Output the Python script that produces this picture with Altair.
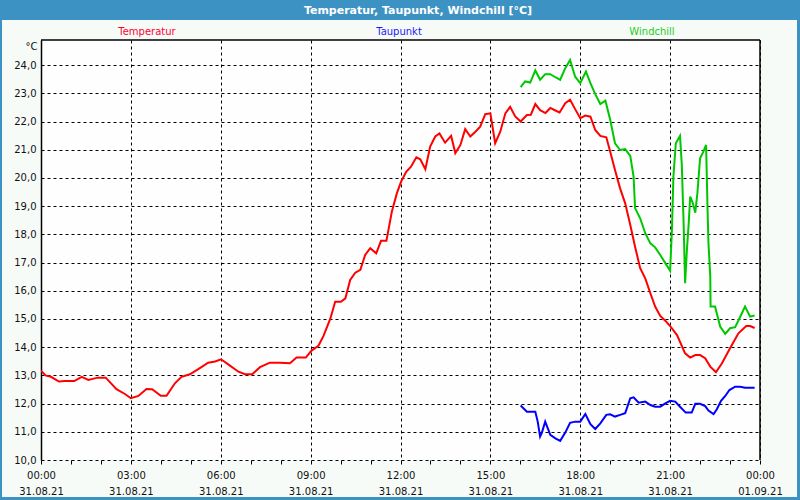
import json
import altair as alt
import pandas as pd

# ---------------- data ----------------
TEMP_H = [0.00, 0.15, 0.33, 0.60, 0.80, 1.11, 1.36, 1.58, 1.89, 2.16, 2.52, 2.80, 3.00, 3.25, 3.52, 3.71,
          4.00, 4.19, 4.47, 4.69, 4.97, 5.25, 5.58, 5.81, 6.01, 6.25, 6.59, 6.81, 7.05, 7.31, 7.64, 7.98,
          8.31, 8.53, 8.84, 9.03, 9.26, 9.43, 9.66, 9.82, 10.01, 10.16, 10.32, 10.49, 10.66, 10.82, 10.99,
          11.19, 11.35, 11.53, 11.71, 11.88, 12.02, 12.19, 12.35, 12.53, 12.66, 12.83, 12.99, 13.16, 13.30,
          13.49, 13.69, 13.83, 14.00, 14.16, 14.33, 14.50, 14.66, 14.83, 15.00, 15.16, 15.33, 15.50, 15.66,
          15.83, 16.01, 16.22, 16.35, 16.50, 16.66, 16.84, 17.00, 17.17, 17.31, 17.50, 17.66, 17.83, 18.00,
          18.17, 18.34, 18.50, 18.67, 18.87, 19.00, 19.16, 19.33, 19.50, 19.67, 19.83, 20.00, 20.17, 20.34,
          20.50, 20.67, 20.84, 21.00, 21.23, 21.50, 21.67, 21.84, 22.00, 22.17, 22.34, 22.53, 22.73, 23.00,
          23.28, 23.54, 23.67, 23.82]
TEMP_V = [13.17, 13.00, 12.95, 12.78, 12.80, 12.80, 12.95, 12.84, 12.92, 12.92, 12.51, 12.34, 12.19, 12.27,
          12.52, 12.51, 12.28, 12.28, 12.72, 12.95, 13.04, 13.22, 13.45, 13.49, 13.57, 13.39, 13.13, 13.04,
          13.04, 13.29, 13.45, 13.45, 13.43, 13.63, 13.63, 13.88, 14.05, 14.40, 15.02, 15.61, 15.61, 15.73,
          16.38, 16.64, 16.74, 17.27, 17.51, 17.33, 17.77, 17.77, 18.80, 19.46, 19.87, 20.22, 20.40, 20.73,
          20.66, 20.31, 21.11, 21.47, 21.58, 21.25, 21.49, 20.88, 21.17, 21.73, 21.47, 21.64, 21.82, 22.26,
          22.29, 21.23, 21.64, 22.29, 22.52, 22.18, 22.00, 22.23, 22.24, 22.62, 22.40, 22.30, 22.48, 22.39,
          22.32, 22.65, 22.77, 22.44, 22.12, 22.21, 22.17, 21.70, 21.49, 21.44, 20.93, 20.28, 19.63, 19.10,
          18.33, 17.56, 16.80, 16.44, 15.91, 15.44, 15.11, 14.94, 14.75, 14.43, 13.78, 13.63, 13.72, 13.72,
          13.61, 13.31, 13.11, 13.43, 13.96, 14.49, 14.75, 14.75, 14.68]

DEW_H = [16.01, 16.22, 16.50, 16.58, 16.66, 16.72, 16.83, 17.00, 17.17, 17.33, 17.50, 17.66, 17.83, 18.00,
         18.17, 18.34, 18.50, 18.67, 18.87, 19.00, 19.16, 19.33, 19.50, 19.67, 19.78, 19.95, 20.17, 20.34,
         20.50, 20.67, 20.84, 21.00, 21.17, 21.33, 21.52, 21.72, 21.84, 22.00, 22.17, 22.28, 22.45, 22.56,
         22.70, 22.84, 22.98, 23.17, 23.34, 23.50, 23.82]
DEW_V = [11.93, 11.71, 11.71, 11.36, 10.83, 10.97, 11.36, 10.89, 10.77, 10.68, 10.97, 11.32, 11.36, 11.36,
         11.63, 11.27, 11.10, 11.30, 11.60, 11.62, 11.54, 11.60, 11.66, 12.19, 12.22, 12.03, 12.07, 11.95,
         11.89, 11.89, 12.01, 12.10, 12.07, 11.89, 11.68, 11.68, 11.99, 11.99, 11.91, 11.75, 11.63, 11.80,
         12.10, 12.27, 12.48, 12.60, 12.60, 12.56, 12.56]

WIND_H = [16.01, 16.16, 16.33, 16.50, 16.66, 16.83, 17.00, 17.17, 17.33, 17.50, 17.66, 17.83, 18.00, 18.19,
          18.34, 18.50, 18.67, 18.84, 19.00, 19.16, 19.33, 19.50, 19.67, 19.78, 19.83, 20.00, 20.17, 20.34,
          20.50, 20.67, 20.84, 21.00, 21.06, 21.11, 21.19, 21.33, 21.39, 21.45, 21.50, 21.56, 21.62, 21.67,
          21.76, 21.84, 21.91, 22.00, 22.11, 22.20, 22.25, 22.28, 22.34, 22.35, 22.50, 22.67, 22.84, 23.00,
          23.17, 23.34, 23.50, 23.67, 23.82]
WIND_V = [23.22, 23.42, 23.38, 23.81, 23.48, 23.68, 23.68, 23.57, 23.48, 23.89, 24.18, 23.59, 23.36, 23.77,
          23.36, 22.97, 22.62, 22.74, 22.06, 21.23, 20.99, 21.02, 20.78, 20.05, 18.93, 18.57, 18.04, 17.68,
          17.54, 17.27, 16.98, 16.71, 18.16, 20.05, 21.23, 21.49, 20.46, 18.39, 16.27, 17.45, 18.39, 19.34,
          19.10, 18.77, 19.46, 20.70, 20.93, 21.17, 18.87, 17.68, 16.50, 15.44, 15.44, 14.73, 14.47, 14.67,
          14.71, 15.08, 15.44, 15.08, 15.12]

SERIES = ["Temperatur", "Taupunkt", "Windchill"]
TIME_LABELS = ["00:00", "03:00", "06:00", "09:00", "12:00", "15:00", "18:00", "21:00", "00:00"]
DATE_LABELS = ["31.08.21"] * 8 + ["01.09.21"]
TITLE = "Temperatur, Taupunkt, Windchill [°C]"
UNIT = "°C"

# ---------------- styles ----------------
COLORS = ["#ff0000", "#0000ff", "#00c800"]
LABEL_COLORS = ["#ff0033", "#1a1aff", "#22cc22"]
LABEL_X = [106, 358, 611]
FONT = "DejaVu Sans"
FRAME_BLUE = "#3d92c4"
PAGE_BG = "#f7fbf7"
W, H = 719, 420

rows = []
for name, hs, vs in [(SERIES[0], TEMP_H, TEMP_V), (SERIES[1], DEW_H, DEW_V), (SERIES[2], WIND_H, WIND_V)]:
    for h, v in zip(hs, vs):
        rows.append({"h": h, "v": v, "s": name})
df = pd.DataFrame(rows)

label_expr = ("datum.value % 3 === 0 ? [" + json.dumps(TIME_LABELS) + "[datum.value/3], "
              + json.dumps(DATE_LABELS) + "[datum.value/3]] : ''")

x_scale = alt.Scale(domain=[0, 24], nice=False, zero=False)
y_scale = alt.Scale(domain=[10, 24.89], nice=False, zero=False)

one = pd.DataFrame({"k": [0]})

# blue window frame: title band, left/right/bottom borders
band = alt.Chart(one).mark_rect(color=FRAME_BLUE).encode(
    x=alt.value(-41), x2=alt.value(759), y=alt.value(-40), y2=alt.value(-20))
left_b = alt.Chart(one).mark_rect(color=FRAME_BLUE).encode(
    x=alt.value(-41), x2=alt.value(-39), y=alt.value(-20), y2=alt.value(460))
right_b = alt.Chart(one).mark_rect(color=FRAME_BLUE).encode(
    x=alt.value(756), x2=alt.value(759), y=alt.value(-20), y2=alt.value(460))
bottom_b = alt.Chart(one).mark_rect(color=FRAME_BLUE).encode(
    x=alt.value(-41), x2=alt.value(759), y=alt.value(457), y2=alt.value(460))

lines = alt.Chart(df).mark_line(strokeWidth=2, clip=True).encode(
    x=alt.X("h:Q", scale=x_scale,
            axis=alt.Axis(values=list(range(0, 25)), labelExpr=label_expr, title=None,
                          domain=False, ticks=True, tickSize=4, tickColor="black", tickWidth=1,
                          labelPadding=6, labelLineHeight=16, labelFont=FONT, labelFontSize=10,
                          labelColor="#111111", labelBaseline="top", labelFlush=False,
                          labelOverlap=False,
                          grid=True, gridColor="black", gridDash=[3, 3], gridWidth=1,
                          gridOpacity={"condition": {"test": "datum.value % 3 === 0", "value": 1},
                                       "value": 0})),
    y=alt.Y("v:Q", scale=y_scale,
            axis=alt.Axis(values=list(range(10, 25)),
                          labelExpr="replace(format(datum.value, '.1f'), '.', ',')",
                          title=UNIT, titleAngle=0, titleAlign="right", titleBaseline="middle",
                          titleX=-4, titleY=6, titleFont=FONT, titleFontSize=10,
                          titleFontWeight="normal", titleColor="#111111",
                          domain=True, domainColor="black", domainWidth=1.5, ticks=False,
                          labelPadding=5, labelFont=FONT, labelFontSize=10, labelColor="#111111",
                          labelFlush=False,
                          grid=True, gridColor="black", gridDash=[3, 3], gridWidth=1)),
    color=alt.Color("s:N", scale=alt.Scale(domain=SERIES, range=COLORS), legend=None),
    detail="s:N",
)

top_rule = alt.Chart(one).mark_rule(color="black", strokeWidth=1.5).encode(
    x=alt.value(0), x2=alt.value(W), y=alt.value(0))
right_rule = alt.Chart(one).mark_rule(color="black", strokeWidth=1.5).encode(
    x=alt.value(W), y=alt.value(0), y2=alt.value(H))

title = alt.Chart(one).mark_text(font=FONT, fontSize=11, fontWeight="bold", color="white",
                                 baseline="middle", align="center").encode(
    x=alt.value(377), y=alt.value(-29), text=alt.value(TITLE))

labels = []
for name, col, lx in zip(SERIES, LABEL_COLORS, LABEL_X):
    labels.append(alt.Chart(one).mark_text(font=FONT, fontSize=10, color=col,
                                           baseline="middle", align="center").encode(
        x=alt.value(lx), y=alt.value(-8), text=alt.value(name)))

chart = alt.layer(band, left_b, right_b, bottom_b, lines, top_rule, right_rule, title, *labels).properties(
    width=W, height=H,
    autosize=alt.AutoSizeParams(type="none"),
    padding={"left": 41, "top": 40, "right": 40, "bottom": 40},
).configure(background=PAGE_BG).configure_view(stroke=None, fill="#fdfefd")

chart.save("out.html", embed_options={"renderer": "svg", "actions": False})
